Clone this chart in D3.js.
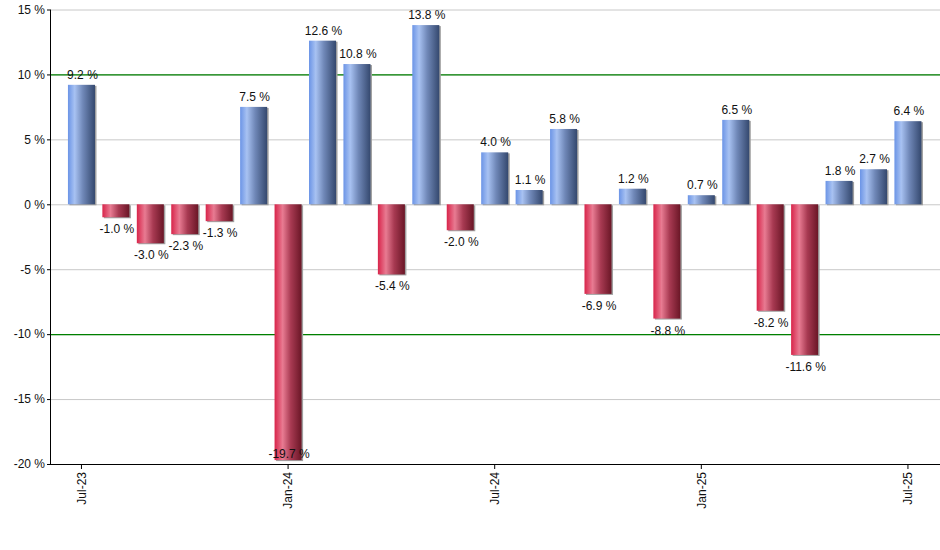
<!DOCTYPE html>
<html>
<head>
<meta charset="utf-8">
<script src="https://cdn.jsdelivr.net/npm/d3@7"></script>
<style>
  body { margin: 0; background: #fff; }
  text { font-family: "Liberation Sans", Arial, sans-serif; }
</style>
</head>
<body>
<svg id="chart" width="940" height="550"></svg>
<script>
const months = ['Jul-23','Aug-23','Sep-23','Oct-23','Nov-23','Dec-23','Jan-24','Feb-24','Mar-24','Apr-24','May-24','Jun-24',
  'Jul-24','Aug-24','Sep-24','Oct-24','Nov-24','Dec-24','Jan-25','Feb-25','Mar-25','Apr-25','May-25','Jun-25','Jul-25'];
const returns = [9.2, -1.0, -3.0, -2.3, -1.3, 7.5, -19.7, 12.6, 10.8, -5.4, 13.8, -2.0,
  4.0, 1.1, 5.8, -6.9, 1.2, -8.8, 0.7, 6.5, -8.2, -11.6, 1.8, 2.7, 6.4];
const yTicks = [-20, -15, -10, -5, 0, 5, 10, 15];
const xLabels = ['Jul-23', 'Jan-24', 'Jul-24', 'Jan-25', 'Jul-25'];
const refLines = [-10, 10];

const svg = d3.select('#chart');
const mLeft = 50, mRight = 940, mTop = 9.5, mBottom = 464;

const x = d3.scaleBand().domain(months).range([64.5, 924.9]).paddingInner(0.215).paddingOuter(0.1);
const y = d3.scaleLinear().domain([-20, 15]).range([mBottom, mTop]);

const defs = svg.append('defs');
function grad(id, stops) {
  const g = defs.append('linearGradient').attr('id', id).attr('x1', 0).attr('x2', 1).attr('y1', 0).attr('y2', 0);
  stops.forEach(s => g.append('stop').attr('offset', s[0]).attr('stop-color', s[1]));
}
grad('gPos', [[0, '#6b94e6'], [0.25, '#a8c2f2'], [0.55, '#7088b8'], [1, '#34486e']]);
grad('gNeg', [[0, '#d8244a'], [0.3, '#e87b92'], [0.6, '#a83a52'], [1, '#6a1626']]);

// grid
svg.append('g').selectAll('line').data(yTicks).join('line')
  .attr('x1', mLeft).attr('x2', mRight)
  .attr('y1', d => y(d) + 0.5).attr('y2', d => y(d) + 0.5)
  .attr('stroke', '#c8c8c8');

svg.append('g').selectAll('line').data(refLines).join('line')
  .attr('x1', mLeft).attr('x2', mRight)
  .attr('y1', d => y(d) + 0.5).attr('y2', d => y(d) + 0.5)
  .attr('stroke', '#008000').attr('stroke-width', 1.2);

const bw = x.bandwidth();
const bars = svg.append('g');
// shadow
bars.selectAll('rect.sh').data(returns).join('rect').attr('class', 'sh')
  .attr('x', (d, i) => x(months[i]) + 1.5)
  .attr('y', d => Math.min(y(d), y(0)) + 1)
  .attr('width', bw)
  .attr('height', d => Math.abs(y(d) - y(0)))
  .attr('fill', '#a0a0a0');
bars.selectAll('rect.b').data(returns).join('rect').attr('class', 'b')
  .attr('x', (d, i) => x(months[i]))
  .attr('y', d => Math.min(y(d), y(0)))
  .attr('width', bw)
  .attr('height', d => Math.abs(y(d) - y(0)))
  .attr('fill', d => d >= 0 ? 'url(#gPos)' : 'url(#gNeg)');

// value labels
svg.append('g').selectAll('text').data(returns).join('text')
  .attr('x', (d, i) => x(months[i]) + bw / 2 + 1)
  .attr('y', d => d >= 0 ? y(d) - 6 : Math.min(y(d) + 16, mBottom - 6))
  .attr('text-anchor', 'middle')
  .attr('font-size', 12)
  .attr('fill', '#111')
  .text(d => d.toFixed(1) + ' %');

// axes
const yAxis = svg.append('g').attr('transform', `translate(${mLeft},0)`)
  .call(d3.axisLeft(y).tickValues(yTicks).tickSize(3).tickPadding(2).tickFormat(d => d + ' %'));
yAxis.select('.domain').attr('stroke', '#000').attr('d', `M0.5,${mTop}V${mBottom + 0.5}`);
yAxis.selectAll('text').attr('font-size', 12).attr('fill', '#111').style('font-family', '"Liberation Sans", Arial, sans-serif');
yAxis.selectAll('.tick line').attr('stroke', '#000');

const xAxis = svg.append('g').attr('transform', `translate(0,${mBottom})`)
  .call(d3.axisBottom(x).tickValues(xLabels).tickSize(5).tickSizeOuter(0));
xAxis.select('.domain').attr('stroke', '#000').attr('d', `M${mLeft},0.5H${mRight}`);
xAxis.selectAll('.tick line').attr('stroke', '#000');
xAxis.selectAll('text')
  .attr('font-size', 12).attr('fill', '#111')
  .style('font-family', '"Liberation Sans", Arial, sans-serif')
  .attr('transform', 'rotate(-90)')
  .attr('text-anchor', 'end')
  .attr('x', -8).attr('y', 0).attr('dy', '0.35em');
</script>
</body>
</html>
